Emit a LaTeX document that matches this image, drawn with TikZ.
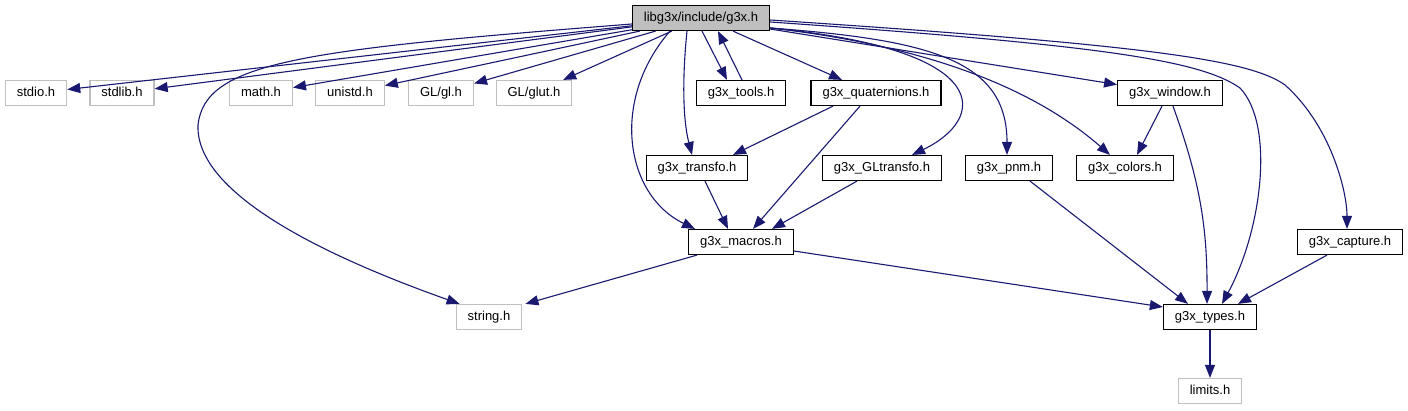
\documentclass[tikz,border=0pt]{standalone}
\usepackage{fontspec}
\setmainfont{Liberation Sans}
\usetikzlibrary{arrows.meta}
\definecolor{edgeblue}{RGB}{25,25,112}
\definecolor{sysgray}{RGB}{191,191,191}

\begin{document}
\begin{tikzpicture}[x=1pt,y=-1pt,
    file/.style={draw=black,fill=white,line width=1.2pt,inner xsep=11.5pt,inner ysep=6.5pt,
      text height=9.5pt,text depth=2.5pt,font=\fontsize{13}{15}\selectfont},
    sysfile/.style={file,draw=sysgray},
    mainfile/.style={file,fill=sysgray},
    dep/.style={edgeblue,line width=1.1pt,-{Triangle[length=13pt,width=10pt]}}]
  \useasboundingbox (0,0) rectangle (1408,411);
  % fichier principal
  \node[mainfile] (g3x) at (701,18) {libg3x/include/g3x.h};
  % en-tetes systeme
  \node[sysfile] (stdio) at (36,93) {stdio.h};
  \node[sysfile] (stdlib) at (122,93) {stdlib.h};
  \node[sysfile] (math) at (261,93) {math.h};
  \node[sysfile] (unistd) at (350,93) {unistd.h};
  \node[sysfile] (gl) at (441,93) {GL/gl.h};
  \node[sysfile] (glut) at (534,93) {GL/glut.h};
  \node[sysfile] (string) at (489,317) {string.h};
  \node[sysfile] (limits) at (1210,391) {limits.h};
  % en-tetes de la lib
  \node[file] (tools) at (741,93) {g3x\_tools.h};
  \node[file] (quat) at (876,93) {g3x\_quaternions.h};
  \node[file] (window) at (1170,93) {g3x\_window.h};
  \node[file] (transfo) at (697,168) {g3x\_transfo.h};
  \node[file] (gltransfo) at (882,168) {g3x\_GLtransfo.h};
  \node[file] (pnm) at (1009,168) {g3x\_pnm.h};
  \node[file] (colors) at (1125,168) {g3x\_colors.h};
  \node[file] (macros) at (741,242) {g3x\_macros.h};
  \node[file] (capture) at (1350,242) {g3x\_capture.h};
  \node[file] (types) at (1210,317) {g3x\_types.h};
  % inclusions de g3x.h
  \draw[dep] (g3x) -- (stdio);
  \draw[dep] (g3x) -- (stdlib);
  \draw[dep] (g3x) -- (math);
  \draw[dep] (g3x) -- (unistd);
  \draw[dep] (g3x) -- (gl);
  \draw[dep] (g3x) -- (glut);
  \draw[dep] ([yshift=-6pt]g3x.west) .. controls (300,50) and (205,62) .. (198,125)
    .. controls (195,200) and (350,265) .. ([xshift=4pt]string.north west);
  \draw[dep] ([xshift=-31pt]g3x.south) .. controls (610,100) and (625,195) .. ([xshift=-46pt]macros.north);
  \draw[dep] ([xshift=-14pt]g3x.south) .. controls (682,80) and (683,120) .. ([xshift=-5pt]transfo.north);
  \draw[dep] ([xshift=1pt]g3x.south) -- ([xshift=-14pt]tools.north);
  \draw[dep] ([xshift=1pt]tools.north) -- ([xshift=17pt]g3x.south);
  \draw[dep] ([xshift=32pt]g3x.south) -- ([xshift=-34pt]quat.north);
  \draw[dep] ([yshift=-10pt]g3x.east) .. controls (1000,50) and (985,120) .. ([xshift=30pt]gltransfo.north);
  \draw[dep] ([yshift=-10pt]g3x.east) .. controls (930,40) and (1007,60) .. ([xshift=-2pt]pnm.north);
  \draw[dep] ([yshift=-10pt]g3x.east) .. controls (920,45) and (1030,85) .. ([xshift=-15pt]colors.north);
  \draw[dep] (g3x) -- (window);
  \draw[dep] ([yshift=-4pt]g3x.east) .. controls (1100,45) and (1200,60) .. (1240,88)
    .. controls (1275,125) and (1262,230) .. ([xshift=12pt]types.north);
  \draw[dep] ([yshift=-2pt]g3x.east) .. controls (1150,45) and (1250,60) .. (1285,85)
    .. controls (1330,125) and (1347,190) .. ([xshift=-3pt]capture.north);
  % inclusions internes
  \draw[dep] ([xshift=-43pt]quat.south) -- ([xshift=36pt]transfo.north);
  \draw[dep] ([xshift=-16pt]quat.south) -- ([xshift=12pt]macros.north);
  \draw[dep] ([xshift=8pt]transfo.south) -- ([xshift=-13pt]macros.north);
  \draw[dep] ([xshift=-25pt]gltransfo.south) -- ([xshift=31pt]macros.north);
  \draw[dep] ([xshift=-8pt]window.south) -- ([xshift=12pt]colors.north);
  \draw[dep] ([xshift=3pt]window.south) to[bend left=10] ([xshift=-3pt]types.north);
  \draw[dep] ([xshift=21pt]pnm.south) -- ([xshift=-22pt]types.north);
  \draw[dep] ([xshift=-44pt]macros.south) -- ([xshift=3pt]string.north east);
  \draw[dep] ([yshift=-9pt]macros.east) -- ([yshift=10pt]types.west);
  \draw[dep] ([xshift=-23pt]capture.south) -- ([xshift=28pt]types.north);
  \draw[dep] (types) -- (limits);
\end{tikzpicture}
\end{document}
